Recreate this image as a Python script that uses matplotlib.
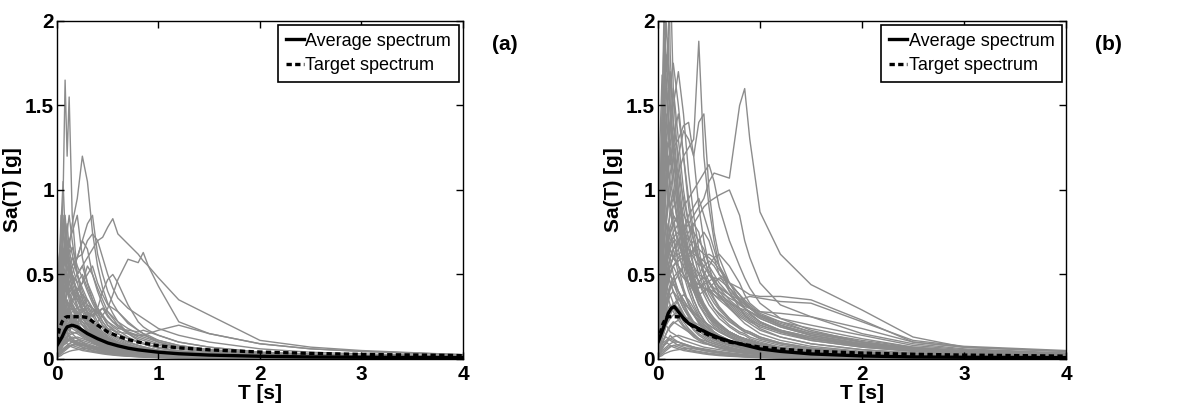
import matplotlib
matplotlib.use('Agg')
import matplotlib.pyplot as plt
import numpy as np

plt.rcParams['font.family'] = ['Liberation Sans', 'DejaVu Sans']

# period grid shared by all single-record spectra
okresy = [0, .02, .04, .06, .08, .1, .12, .15, .2, .25, .3, .35, .4, .45, .5, .55,
          .6, .7, .8, .85, .9, 1.0, 1.2, 1.5, 2.0, 2.5, 3.0, 4.0]

# panel (a) - spectra of the individual records
widma_a = [
    [.30, .45, .70, .95, 1.65, 1.20, 1.55, .85, .50, .36, .26, .19, .15, .12, .10, .085, .07, .05, .04, .036, .032, .026, .018, .012, .007, .005, .004, .002],
    [.20, .28, .40, .55, .62, .70, .66, .80, .95, 1.20, 1.05, .75, .55, .42, .33, .27, .22, .15, .11, .095, .085, .068, .05, .034, .02, .014, .01, .006],
    [.22, .45, .80, 1.05, .75, .62, .55, .48, .38, .30, .24, .18, .14, .11, .09, .075, .065, .05, .04, .036, .032, .026, .019, .013, .008, .006, .004, .003],
    [.10, .18, .28, .36, .42, .48, .52, .55, .60, .62, .70, .74, .70, .72, .78, .83, .74, .68, .62, .58, .55, .48, .35, .26, .11, .07, .05, .025],
    [.06, .10, .14, .18, .20, .19, .17, .19, .22, .24, .21, .19, .22, .26, .30, .38, .47, .59, .57, .63, .55, .43, .22, .15, .09, .06, .045, .025],
    [.08, .15, .25, .35, .40, .45, .42, .38, .40, .45, .50, .55, .45, .38, .32, .30, .28, .22, .17, .15, .13, .10, .07, .05, .03, .02, .015, .01],
    [.05, .08, .12, .16, .18, .20, .22, .24, .26, .28, .30, .28, .30, .40, .47, .50, .45, .32, .22, .19, .17, .14, .10, .07, .04, .03, .02, .012],
    [.05, .08, .10, .14, .16, .18, .17, .20, .22, .24, .23, .21, .20, .19, .18, .17, .16, .15, .14, .14, .15, .17, .20, .15, .09, .06, .045, .025],
    [.15, .30, .55, .85, .60, .50, .45, .40, .30, .25, .20, .16, .13, .11, .09, .08, .07, .05, .04, .035, .03, .025, .018, .012, .008, .005, .004, .003],
    [.10, .20, .35, .50, .70, .80, .65, .55, .45, .35, .28, .22, .17, .14, .12, .10, .085, .065, .05, .045, .04, .032, .022, .015, .009, .006, .004, .003],
    [.12, .25, .40, .60, .55, .75, .85, .70, .50, .40, .32, .26, .20, .16, .13, .11, .09, .07, .055, .05, .045, .036, .025, .017, .01, .007, .005, .003],
    [.08, .15, .30, .45, .55, .60, .70, .75, .85, .60, .45, .35, .28, .22, .18, .15, .13, .10, .08, .07, .06, .05, .035, .024, .014, .009, .007, .004],
    [.10, .20, .30, .40, .50, .45, .55, .60, .50, .55, .45, .38, .30, .25, .20, .17, .15, .12, .10, .09, .08, .065, .045, .03, .018, .012, .008, .005],
    [.05, .10, .20, .30, .35, .40, .45, .50, .60, .70, .65, .50, .40, .32, .26, .22, .19, .15, .12, .11, .10, .08, .06, .04, .025, .016, .012, .007],
    [.20, .35, .60, .70, .80, .65, .60, .50, .40, .30, .25, .20, .16, .13, .11, .09, .08, .06, .05, .045, .04, .032, .022, .015, .009, .006, .004, .003],
    [.06, .12, .20, .28, .35, .42, .50, .48, .40, .45, .55, .50, .42, .35, .28, .24, .20, .16, .13, .12, .11, .09, .065, .045, .028, .018, .013, .008],
    [.10, .18, .30, .45, .40, .50, .45, .40, .35, .38, .30, .25, .30, .25, .20, .18, .15, .12, .10, .09, .08, .065, .045, .03, .018, .012, .008, .005],
    [.04, .08, .15, .22, .30, .35, .32, .38, .42, .38, .35, .30, .28, .30, .25, .22, .20, .16, .14, .13, .12, .10, .07, .05, .03, .02, .014, .008],
    [.15, .30, .50, .65, .55, .60, .50, .42, .35, .30, .25, .20, .16, .13, .11, .10, .08, .06, .05, .045, .04, .032, .022, .015, .009, .006, .004, .003],
    [.07, .14, .25, .35, .45, .50, .40, .35, .30, .28, .32, .30, .25, .20, .16, .14, .12, .09, .07, .065, .06, .05, .035, .024, .014, .009, .007, .004],
    [.08, .15, .25, .35, .42, .48, .50, .55, .60, .70, .80, .85, .62, .50, .40, .33, .28, .21, .17, .15, .14, .11, .08, .055, .033, .022, .016, .009],
    [.06, .12, .20, .28, .33, .38, .40, .45, .50, .55, .60, .65, .70, .60, .50, .42, .36, .30, .26, .24, .22, .18, .14, .10, .06, .04, .03, .018],
    [.05, .08, .12, .15, .18, .20, .22, .25, .28, .30, .28, .25, .27, .30, .28, .25, .22, .18, .15, .14, .13, .11, .08, .055, .035, .025, .018, .01],
    [.04, .07, .10, .12, .14, .16, .18, .20, .22, .24, .25, .26, .28, .25, .22, .20, .18, .17, .16, .17, .16, .14, .10, .07, .04, .028, .02, .012],
    [.25, .50, .85, .60, .70, .55, .50, .42, .32, .25, .20, .16, .13, .11, .09, .08, .07, .055, .045, .04, .036, .03, .021, .014, .009, .006, .004, .003],
    [.30, .60, .70, .80, .60, .65, .55, .45, .35, .28, .22, .18, .15, .12, .10, .09, .08, .06, .048, .043, .039, .031, .022, .015, .009, .006, .004, .003],
    [.18, .35, .50, .75, .85, .70, .60, .50, .38, .30, .24, .20, .16, .13, .11, .095, .085, .065, .052, .047, .042, .034, .024, .016, .01, .007, .005, .003],
    [.12, .22, .38, .55, .65, .60, .70, .62, .50, .42, .35, .28, .22, .18, .15, .13, .11, .085, .068, .06, .054, .044, .031, .021, .013, .009, .006, .004],
    [.08, .16, .30, .42, .50, .58, .62, .66, .55, .48, .40, .33, .27, .22, .18, .15, .13, .10, .08, .072, .065, .052, .037, .025, .015, .01, .007, .004],
    [.20, .40, .55, .45, .50, .40, .38, .33, .27, .22, .18, .15, .12, .10, .085, .075, .065, .05, .04, .036, .032, .026, .019, .013, .008, .005, .004, .002],
    [.10, .20, .32, .42, .48, .52, .56, .50, .45, .50, .42, .35, .30, .26, .22, .19, .17, .13, .10, .09, .08, .065, .046, .031, .019, .012, .009, .005],
    [.15, .28, .45, .60, .72, .62, .55, .48, .40, .33, .27, .22, .19, .16, .14, .12, .10, .078, .062, .056, .05, .04, .028, .019, .012, .008, .006, .003],
    [.05, .08, .12, .15, .14, .16, .13, .11, .09, .07, .06, .05, .04, .035, .03, .026, .022, .017, .013, .012, .011, .009, .007, .005, .003, .002, .0015, .001],
    [.08, .12, .18, .25, .22, .20, .18, .15, .12, .10, .08, .065, .055, .045, .04, .035, .03, .024, .019, .017, .015, .012, .009, .006, .004, .003, .002, .001],
    [.03, .06, .10, .14, .18, .20, .22, .20, .17, .14, .12, .10, .08, .07, .06, .05, .045, .035, .028, .025, .022, .018, .013, .009, .005, .003, .002, .0015],
    [.10, .15, .25, .30, .35, .30, .28, .25, .20, .16, .13, .10, .085, .07, .06, .052, .045, .035, .028, .025, .022, .018, .013, .009, .005, .003, .002, .0015],
    [.02, .04, .06, .08, .10, .12, .11, .10, .09, .08, .07, .06, .05, .045, .04, .035, .03, .024, .019, .017, .015, .012, .009, .006, .004, .003, .002, .001],
    [.06, .10, .15, .20, .25, .28, .32, .30, .25, .20, .17, .14, .12, .10, .085, .075, .065, .05, .04, .036, .032, .026, .019, .013, .008, .005, .004, .002],
    [.04, .07, .10, .12, .15, .18, .20, .24, .28, .25, .20, .17, .14, .12, .10, .09, .08, .062, .05, .045, .04, .032, .023, .016, .01, .006, .004, .003],
    [.12, .20, .30, .40, .35, .32, .30, .25, .20, .15, .12, .10, .08, .065, .055, .048, .04, .032, .025, .022, .02, .016, .012, .008, .005, .003, .002, .0015],
    [.03, .05, .08, .10, .12, .14, .15, .16, .15, .13, .11, .10, .09, .08, .07, .062, .055, .045, .036, .032, .029, .024, .017, .012, .007, .005, .003, .002],
    [.07, .10, .14, .18, .20, .22, .25, .28, .30, .32, .35, .30, .25, .20, .17, .15, .13, .10, .08, .072, .065, .052, .038, .026, .016, .01, .007, .004],
    [.02, .03, .05, .06, .07, .08, .09, .10, .11, .10, .09, .08, .07, .06, .055, .05, .045, .036, .029, .026, .023, .019, .014, .009, .006, .004, .003, .002],
    [.09, .15, .22, .30, .40, .45, .38, .32, .25, .20, .16, .13, .11, .09, .08, .07, .06, .048, .038, .034, .03, .024, .018, .012, .007, .005, .003, .002],
    [.05, .09, .14, .20, .28, .33, .30, .35, .40, .33, .28, .22, .18, .15, .13, .11, .10, .08, .065, .058, .052, .042, .03, .02, .012, .008, .006, .003],
    [.04, .06, .08, .10, .09, .10, .12, .13, .12, .11, .10, .09, .08, .075, .07, .065, .06, .05, .042, .038, .035, .028, .02, .014, .008, .005, .004, .002],
    [.10, .18, .30, .45, .50, .42, .35, .30, .22, .17, .14, .11, .09, .075, .065, .056, .05, .04, .032, .028, .025, .02, .015, .01, .006, .004, .003, .002],
    [.03, .05, .07, .09, .11, .13, .16, .20, .22, .20, .18, .16, .15, .14, .12, .10, .09, .07, .055, .05, .045, .036, .026, .018, .011, .007, .005, .003],
    [.06, .10, .16, .22, .26, .30, .28, .24, .20, .17, .14, .12, .10, .085, .075, .066, .058, .046, .037, .033, .03, .024, .017, .012, .007, .005, .003, .002],
    [.04, .07, .11, .15, .20, .24, .27, .30, .26, .22, .18, .15, .13, .11, .095, .085, .075, .06, .048, .043, .038, .031, .022, .015, .009, .006, .004, .003],
    [.09, .14, .20, .26, .30, .28, .25, .22, .18, .15, .12, .10, .085, .072, .062, .055, .048, .038, .03, .027, .024, .019, .014, .009, .006, .004, .003, .002],
    [.03, .05, .08, .11, .14, .17, .20, .22, .24, .22, .20, .18, .16, .14, .12, .105, .095, .075, .06, .054, .048, .039, .028, .019, .011, .007, .005, .003],
    [.07, .12, .18, .24, .28, .26, .24, .20, .17, .14, .12, .10, .09, .08, .07, .062, .055, .044, .035, .031, .028, .022, .016, .011, .007, .004, .003, .002],
    [.02, .04, .07, .09, .11, .13, .14, .15, .16, .17, .16, .15, .14, .12, .11, .10, .09, .072, .058, .052, .047, .038, .027, .018, .011, .007, .005, .003],
    [.05, .08, .12, .16, .19, .22, .24, .22, .19, .16, .14, .12, .10, .09, .08, .07, .062, .05, .04, .036, .032, .026, .019, .013, .008, .005, .004, .002],
    [.10, .16, .24, .32, .36, .34, .30, .26, .21, .17, .14, .12, .10, .085, .074, .065, .057, .045, .036, .032, .029, .023, .017, .011, .007, .004, .003, .002],
    [.03, .04, .06, .08, .09, .10, .11, .12, .13, .12, .11, .10, .09, .085, .08, .072, .065, .052, .042, .038, .034, .028, .02, .013, .008, .005, .004, .002],
    [.06, .09, .13, .17, .21, .25, .28, .32, .28, .24, .20, .17, .15, .13, .11, .10, .09, .07, .056, .05, .045, .036, .026, .018, .011, .007, .005, .003],
    [.04, .06, .09, .12, .14, .16, .18, .19, .18, .16, .14, .12, .11, .10, .09, .08, .07, .056, .045, .04, .036, .029, .021, .014, .009, .006, .004, .002],
    [.08, .13, .20, .28, .32, .30, .27, .23, .19, .16, .13, .11, .095, .082, .072, .063, .056, .044, .035, .031, .028, .022, .016, .011, .007, .004, .003, .002],
    [.02, .03, .04, .05, .06, .07, .08, .085, .09, .085, .08, .075, .07, .065, .06, .055, .05, .04, .032, .029, .026, .021, .015, .01, .006, .004, .003, .002],
    [.05, .09, .14, .18, .22, .26, .30, .34, .38, .30, .25, .20, .17, .14, .12, .11, .095, .075, .06, .054, .048, .039, .028, .019, .012, .008, .005, .003],
    [.07, .11, .15, .19, .17, .19, .20, .18, .16, .14, .12, .10, .09, .08, .07, .063, .056, .045, .036, .032, .029, .023, .017, .011, .007, .004, .003, .002],
    [.03, .06, .10, .13, .16, .18, .19, .20, .19, .17, .15, .13, .12, .11, .10, .09, .08, .064, .051, .046, .041, .033, .024, .016, .01, .006, .004, .003],
]

# panel (b) - spectra of the individual records
widma_b = [
    [.12, .25, .40, .55, .60, .70, .65, .60, .70, .75, .80, .85, .90, .95, 1.05, 1.10, 1.09, 1.07, 1.50, 1.60, 1.30, .87, .62, .44, .29, .13, .07, .045],
    [.20, .40, .70, .90, 1.10, 1.00, .90, .95, 1.10, 1.20, 1.25, 1.30, 1.88, 1.20, .90, .70, .55, .40, .30, .26, .23, .18, .13, .09, .055, .035, .022, .013],
    [.15, .30, .50, .70, .80, .90, 1.00, 1.10, 1.20, 1.35, 1.30, 1.20, 1.40, 1.45, 1.00, .75, .60, .45, .35, .30, .27, .22, .16, .11, .07, .045, .03, .018],
    [.10, .20, .35, .50, .60, .70, .75, .80, .85, .90, .95, 1.00, 1.05, 1.10, 1.15, 1.05, .90, .70, .55, .48, .42, .33, .24, .17, .10, .065, .045, .025],
    [.08, .15, .25, .35, .45, .50, .55, .60, .65, .70, .75, .80, .85, .90, .93, .95, .97, 1.00, .85, .70, .60, .45, .32, .25, .15, .09, .06, .035],
    [.20, .40, .60, .80, 1.00, 1.10, 1.20, 1.25, 1.30, 1.38, 1.40, 1.20, .90, .70, .55, .45, .38, .30, .24, .21, .19, .15, .11, .075, .045, .03, .02, .012],
    [.30, .60, 1.20, 1.60, 2.20, 2.50, 1.80, 1.40, 1.00, .75, .60, .50, .40, .33, .28, .24, .21, .16, .13, .12, .11, .09, .065, .045, .028, .018, .013, .008],
    [.40, .80, 1.40, 2.10, 1.70, 1.90, 2.30, 1.60, 1.10, .80, .60, .48, .38, .30, .25, .21, .18, .14, .11, .10, .09, .075, .055, .038, .023, .015, .011, .006],
    [.50, 1.30, 1.68, 1.40, 1.20, 1.00, .90, .75, .55, .42, .33, .27, .22, .18, .15, .13, .11, .085, .07, .063, .056, .045, .033, .022, .013, .009, .006, .004],
    [.30, .70, 1.10, 1.50, 1.80, 1.60, 1.70, 1.40, 1.20, .90, .70, .55, .45, .38, .32, .28, .24, .19, .15, .14, .12, .10, .07, .05, .03, .02, .014, .008],
    [.25, .50, .90, 1.30, 1.55, 1.90, 1.50, 1.30, 1.00, .80, .65, .55, .45, .40, .35, .30, .27, .22, .18, .16, .15, .12, .09, .06, .037, .024, .017, .01],
    [.20, .40, .80, 1.00, 1.30, 1.40, 1.60, 1.75, 1.50, 1.20, .90, .70, .55, .45, .38, .33, .29, .23, .18, .16, .15, .12, .09, .06, .036, .024, .017, .01],
    [.35, .60, 1.00, 1.20, 1.45, 1.30, 1.40, 1.20, .95, .75, .58, .46, .38, .32, .27, .24, .21, .16, .13, .12, .11, .09, .065, .045, .027, .018, .013, .007],
    [.15, .30, .60, .90, 1.10, 1.25, 1.35, 1.50, 1.70, 1.45, 1.10, .85, .65, .50, .40, .35, .30, .24, .19, .17, .16, .13, .095, .065, .04, .026, .018, .01],
    [.10, .20, .35, .50, .60, .65, .70, .75, .80, .70, .65, .60, .55, .60, .62, .60, .55, .45, .38, .34, .31, .26, .20, .14, .09, .06, .04, .024],
    [.12, .25, .40, .55, .70, .80, .85, .90, .95, .85, .80, .75, .70, .65, .55, .50, .45, .38, .32, .30, .28, .24, .19, .14, .09, .06, .045, .028],
    [.08, .15, .30, .45, .55, .60, .65, .70, .60, .55, .50, .48, .50, .55, .58, .55, .50, .45, .42, .40, .38, .37, .37, .35, .23, .10, .07, .045],
    [.10, .20, .35, .50, .60, .55, .60, .65, .70, .60, .50, .45, .42, .45, .50, .48, .42, .38, .35, .36, .37, .36, .34, .33, .22, .11, .075, .05],
    [.06, .12, .20, .30, .40, .45, .50, .55, .60, .62, .58, .55, .50, .48, .45, .42, .40, .36, .33, .31, .30, .28, .27, .25, .18, .10, .07, .045],
    [.10, .18, .30, .45, .55, .60, .65, .60, .55, .50, .45, .42, .45, .50, .55, .60, .62, .55, .45, .38, .33, .28, .24, .20, .14, .08, .055, .035],
    [.05, .10, .18, .25, .32, .38, .42, .45, .50, .55, .60, .65, .70, .75, .70, .60, .50, .40, .35, .32, .30, .26, .22, .18, .12, .07, .05, .03],
    [.15, .30, .50, .70, .85, 1.00, .90, .85, .80, .75, .70, .80, .75, .60, .50, .45, .40, .33, .28, .26, .24, .20, .16, .12, .075, .05, .035, .02],
    [.08, .16, .28, .40, .50, .55, .60, .65, .70, .75, .85, .90, .95, .85, .75, .65, .55, .42, .34, .30, .27, .22, .17, .13, .08, .05, .035, .02],
    [.12, .25, .45, .65, .80, .95, 1.10, 1.20, 1.10, .95, .80, .70, .60, .50, .42, .38, .35, .30, .25, .23, .21, .17, .13, .09, .055, .036, .025, .014],
    [.06, .12, .22, .32, .42, .50, .55, .60, .55, .50, .45, .40, .38, .40, .42, .45, .48, .45, .38, .33, .30, .25, .20, .15, .10, .06, .04, .025],
    [.10, .20, .35, .50, .60, .55, .50, .45, .40, .35, .30, .28, .25, .22, .20, .18, .16, .13, .11, .10, .09, .075, .055, .04, .025, .016, .011, .006],
    [.30, .90, 1.50, 1.90, 1.60, 1.40, 1.20, 1.00, .75, .55, .43, .35, .28, .23, .19, .16, .14, .11, .09, .08, .072, .058, .042, .029, .018, .012, .008, .005],
    [.20, .50, 1.00, 1.40, 1.65, 1.50, 1.30, 1.10, .85, .65, .50, .40, .32, .27, .22, .19, .17, .13, .10, .092, .083, .067, .048, .033, .02, .013, .009, .005],
    [.25, .55, .95, 1.20, 1.35, 1.60, 1.45, 1.20, .90, .70, .55, .45, .37, .31, .26, .22, .19, .15, .12, .11, .10, .08, .058, .04, .024, .016, .011, .006],
    [.40, 1.00, 1.30, 1.10, 1.25, 1.10, 1.00, .85, .65, .50, .40, .32, .26, .21, .18, .15, .13, .10, .08, .072, .065, .052, .038, .026, .016, .01, .007, .004],
    [.15, .35, .70, 1.00, 1.20, 1.30, 1.40, 1.60, 1.30, 1.00, .80, .62, .50, .42, .35, .30, .26, .20, .16, .15, .13, .11, .08, .055, .033, .022, .015, .009],
    [.30, .65, 1.10, 1.40, 1.30, 1.15, 1.25, 1.10, .85, .65, .50, .40, .33, .28, .24, .20, .18, .14, .11, .10, .09, .073, .053, .036, .022, .014, .01, .006],
    [.20, .45, .80, 1.10, 1.25, 1.15, 1.05, .95, .80, .65, .52, .43, .36, .30, .26, .23, .20, .16, .13, .12, .11, .09, .065, .045, .027, .018, .012, .007],
    [.35, .75, 1.20, 1.70, 2.00, 1.75, 1.50, 1.25, .90, .70, .55, .45, .37, .31, .26, .22, .20, .15, .12, .11, .10, .08, .058, .04, .024, .016, .011, .006],
    [.10, .25, .50, .80, 1.00, 1.20, 1.15, 1.30, 1.45, 1.20, .95, .75, .60, .50, .42, .36, .31, .24, .19, .17, .16, .13, .095, .065, .04, .026, .018, .01],
    [.25, .50, .75, .95, 1.05, .95, .90, .80, .70, .60, .50, .42, .35, .30, .26, .23, .20, .16, .13, .12, .11, .09, .065, .045, .027, .018, .012, .007],
    [.08, .16, .30, .45, .55, .62, .68, .72, .75, .70, .65, .62, .60, .58, .52, .47, .42, .35, .30, .28, .26, .22, .17, .12, .08, .05, .035, .02],
    [.10, .20, .35, .50, .60, .70, .75, .80, .70, .62, .55, .50, .46, .48, .45, .40, .37, .33, .30, .29, .28, .25, .20, .15, .10, .06, .04, .025],
    [.06, .12, .22, .33, .42, .48, .52, .55, .58, .60, .62, .65, .60, .55, .50, .46, .43, .38, .33, .30, .28, .24, .19, .14, .09, .055, .04, .024],
    [.12, .24, .40, .55, .65, .72, .78, .85, .80, .70, .60, .52, .46, .42, .40, .38, .36, .32, .27, .25, .23, .20, .16, .12, .08, .05, .035, .02],
    [.07, .14, .25, .37, .46, .52, .56, .60, .62, .64, .66, .70, .65, .62, .60, .57, .53, .45, .38, .35, .32, .27, .22, .16, .10, .065, .045, .028],
    [.09, .18, .32, .46, .56, .63, .68, .72, .68, .60, .52, .47, .44, .42, .41, .40, .38, .34, .29, .27, .25, .21, .17, .13, .085, .055, .038, .023],
    [.05, .10, .18, .27, .35, .40, .44, .48, .52, .48, .45, .43, .42, .44, .46, .48, .47, .42, .36, .33, .30, .26, .21, .16, .11, .07, .048, .03],
    [.11, .22, .38, .52, .62, .68, .74, .80, .85, .80, .72, .65, .58, .52, .46, .41, .37, .31, .26, .24, .22, .19, .15, .11, .07, .045, .032, .019],
    [.10, .20, .30, .40, .45, .40, .38, .33, .27, .22, .18, .15, .12, .10, .085, .075, .065, .05, .04, .036, .032, .026, .019, .013, .008, .005, .004, .002],
    [.05, .10, .15, .20, .25, .30, .32, .30, .25, .20, .17, .14, .12, .10, .09, .08, .07, .055, .045, .04, .036, .029, .021, .015, .009, .006, .004, .003],
    [.15, .30, .50, .60, .55, .50, .45, .40, .32, .26, .21, .17, .14, .12, .10, .09, .08, .06, .05, .045, .04, .032, .024, .016, .01, .006, .005, .003],
    [.08, .12, .18, .22, .28, .35, .42, .48, .40, .33, .27, .22, .18, .15, .13, .11, .10, .08, .065, .058, .052, .042, .031, .021, .013, .008, .006, .003],
    [.04, .08, .12, .16, .20, .22, .24, .26, .28, .25, .22, .20, .18, .16, .14, .12, .11, .09, .075, .068, .06, .05, .036, .025, .015, .01, .007, .004],
    [.20, .40, .70, .90, .80, .70, .60, .50, .40, .32, .26, .21, .17, .14, .12, .10, .09, .07, .055, .05, .045, .036, .026, .018, .011, .007, .005, .003],
    [.06, .10, .14, .18, .20, .24, .26, .30, .35, .38, .35, .30, .25, .22, .20, .18, .16, .13, .10, .09, .085, .07, .05, .035, .021, .014, .01, .006],
    [.12, .25, .40, .55, .70, .80, .75, .65, .50, .40, .32, .26, .21, .18, .15, .13, .12, .09, .075, .068, .06, .05, .036, .025, .015, .01, .007, .004],
    [.03, .06, .09, .12, .15, .18, .20, .22, .20, .18, .16, .14, .12, .11, .10, .09, .08, .065, .052, .047, .042, .034, .025, .017, .01, .007, .005, .003],
    [.10, .22, .35, .50, .65, .75, .90, 1.00, .80, .60, .45, .35, .28, .23, .19, .16, .14, .11, .09, .08, .072, .058, .042, .029, .018, .012, .008, .005],
    [.05, .09, .13, .17, .20, .18, .16, .15, .13, .11, .10, .09, .08, .07, .065, .06, .055, .045, .037, .033, .03, .025, .018, .012, .008, .005, .003, .002],
    [.08, .15, .25, .35, .45, .55, .60, .65, .70, .60, .50, .42, .35, .30, .26, .22, .20, .16, .13, .12, .11, .09, .065, .045, .028, .018, .013, .007],
    [.08, .16, .28, .38, .46, .52, .50, .45, .37, .30, .25, .21, .18, .15, .13, .115, .10, .08, .065, .058, .052, .042, .031, .021, .013, .008, .006, .003],
    [.06, .10, .16, .22, .28, .34, .38, .40, .36, .30, .25, .21, .18, .16, .14, .12, .11, .09, .072, .065, .058, .047, .034, .023, .014, .009, .006, .004],
    [.12, .22, .36, .48, .55, .50, .45, .40, .33, .27, .22, .18, .15, .13, .11, .10, .09, .07, .056, .05, .045, .036, .026, .018, .011, .007, .005, .003],
    [.04, .08, .12, .16, .20, .24, .28, .32, .36, .33, .30, .26, .23, .20, .18, .16, .14, .11, .09, .08, .072, .058, .042, .029, .018, .012, .008, .005],
    [.07, .13, .20, .27, .33, .38, .42, .44, .40, .35, .30, .26, .22, .19, .16, .14, .13, .10, .08, .072, .065, .052, .038, .026, .016, .01, .007, .004],
    [.03, .06, .09, .12, .15, .17, .19, .21, .23, .25, .24, .22, .20, .18, .16, .14, .13, .10, .08, .072, .065, .052, .038, .026, .016, .01, .007, .004],
    [.10, .20, .30, .38, .34, .36, .32, .28, .23, .19, .16, .13, .11, .095, .085, .075, .066, .052, .042, .038, .034, .027, .02, .013, .008, .005, .004, .002],
    [.05, .09, .14, .19, .24, .27, .30, .33, .30, .26, .23, .20, .18, .16, .14, .12, .11, .086, .07, .063, .056, .045, .033, .022, .014, .009, .006, .004],
    [.02, .04, .06, .08, .10, .11, .12, .13, .14, .13, .12, .11, .10, .09, .085, .078, .07, .056, .045, .04, .036, .029, .021, .014, .009, .006, .004, .002],
    [.06, .12, .20, .30, .38, .45, .50, .55, .48, .40, .33, .28, .24, .20, .17, .15, .13, .10, .082, .074, .066, .053, .039, .026, .016, .011, .007, .004],
]

# weak records, present in both sets (fill the band under the average)
widma_slabe = [
    [.01, .02, .03, .04, .05, .06, .07, .08, .07, .06, .05, .045, .04, .035, .03, .027, .024, .019, .015, .013, .012, .01, .007, .005, .003, .002, .0015, .001],
    [.03, .05, .07, .09, .1, .09, .08, .07, .06, .05, .045, .04, .035, .03, .026, .023, .02, .016, .013, .011, .01, .008, .006, .004, .002, .0015, .001, .0007],
    [.02, .03, .05, .06, .07, .08, .09, .1, .1, .09, .08, .07, .06, .055, .05, .045, .04, .032, .026, .023, .021, .017, .012, .008, .005, .003, .002, .0015],
    [.04, .06, .09, .12, .13, .12, .11, .1, .08, .07, .06, .05, .045, .04, .035, .031, .028, .022, .018, .016, .014, .011, .008, .005, .003, .002, .0015, .001],
    [.01, .015, .02, .03, .035, .04, .045, .05, .055, .06, .065, .06, .055, .05, .045, .04, .036, .029, .023, .021, .019, .015, .011, .007, .004, .003, .002, .0015],
    [.02, .04, .06, .08, .09, .11, .12, .11, .1, .085, .075, .065, .058, .052, .046, .041, .037, .03, .024, .021, .019, .015, .011, .007, .004, .003, .002, .0015],
    [.05, .07, .09, .1, .11, .12, .14, .12, .1, .09, .08, .07, .06, .05, .045, .04, .036, .029, .023, .021, .019, .015, .011, .007, .004, .003, .002, .0015],
    [.015, .025, .04, .05, .06, .07, .075, .08, .085, .08, .075, .07, .065, .06, .055, .05, .045, .037, .03, .027, .024, .019, .014, .009, .006, .004, .003, .002],
]

# average and target spectra
okresy_sr_a = [0, .02, .05, .08, .1, .15, .2, .25, .3, .4, .5, .6, .7, .8, 1.0, 1.2, 1.5, 2.0, 2.5, 3.0, 4.0]
srednie_a = [.08, .10, .13, .17, .19, .20, .19, .17, .15, .12, .095, .078, .064, .054, .04, .031, .023, .016, .012, .01, .008]
docelowe_a = [.10, .17, .22, .245, .25, .25, .25, .25, .245, .20, .16, .135, .115, .10, .078, .066, .054, .041, .033, .027, .02]

okresy_sr_b = [0, .02, .05, .08, .1, .13, .16, .2, .25, .3, .4, .5, .6, .7, .8, 1.0, 1.2, 1.5, 2.0, 2.5, 3.0, 4.0]
srednie_b = [.10, .13, .18, .23, .27, .30, .31, .28, .24, .21, .18, .15, .125, .105, .09, .06, .045, .03, .018, .012, .01, .008]
okresy_doc_b = [0, .02, .05, .08, .1, .15, .2, .25, .3, .4, .5, .6, .7, .8, 1.0, 1.2, 1.5, 2.0, 2.5, 3.0, 4.0]
docelowe_b = [.10, .15, .21, .245, .25, .25, .25, .24, .21, .17, .14, .12, .10, .09, .07, .058, .046, .035, .028, .023, .017]

szary = '#8c8c8c'
rozmiar = 15

fig = plt.figure(figsize=(11.92, 4.07), dpi=100)
ax_a = fig.add_axes([0.0478, 0.118, 0.3406, 0.8305])
ax_b = fig.add_axes([0.552, 0.118, 0.3423, 0.8305])

panele = [
    (ax_a, widma_a, okresy_sr_a, srednie_a, okresy_sr_a, docelowe_a, '(a)'),
    (ax_b, widma_b, okresy_sr_b, srednie_b, okresy_doc_b, docelowe_b, '(b)'),
]

for ax, widma, t_sr, sr, t_doc, doc, litera in panele:
    for w in widma + widma_slabe:
        ax.plot(okresy, w, color=szary, lw=1.0, zorder=1)
    ax.plot(t_sr, sr, color='black', lw=2.4, label='Average spectrum', zorder=3)
    ax.plot(t_doc, doc, color='black', lw=2.4, dashes=(1.6, 1.0),
            label='Target spectrum', zorder=4)
    ax.set_xlim(0, 4)
    ax.set_ylim(0, 2)
    ax.set_xticks([0, 1, 2, 3, 4])
    ax.set_yticks([0, 0.5, 1, 1.5, 2])
    ax.set_xticklabels(['0', '1', '2', '3', '4'])
    ax.set_yticklabels(['0', '0.5', '1', '1.5', '2'])
    ax.tick_params(direction='in', top=True, right=True, length=5, width=1,
                   labelsize=rozmiar)
    ax.tick_params(axis='x', pad=4)
    ax.tick_params(axis='y', pad=2)
    for lab in ax.get_xticklabels() + ax.get_yticklabels():
        lab.set_fontweight('bold')
    for s in ax.spines.values():
        s.set_linewidth(1)
    ax.set_xlabel('T [s]', fontsize=rozmiar, fontweight='bold', labelpad=0)
    ax.set_ylabel('Sa(T) [g]', fontsize=rozmiar, fontweight='bold', labelpad=2)
    leg = ax.legend(loc='upper right', fontsize=13, handlelength=1.0,
                    handletextpad=0.1, borderpad=0.45, labelspacing=0.4,
                    fancybox=False, framealpha=1, edgecolor='black',
                    borderaxespad=0.2)
    leg.get_frame().set_linewidth(1.2)
    ax.text(1.103, 0.929, litera, transform=ax.transAxes, fontsize=rozmiar,
            fontweight='bold', ha='center', va='center')

plt.savefig('out.png', dpi=100)
